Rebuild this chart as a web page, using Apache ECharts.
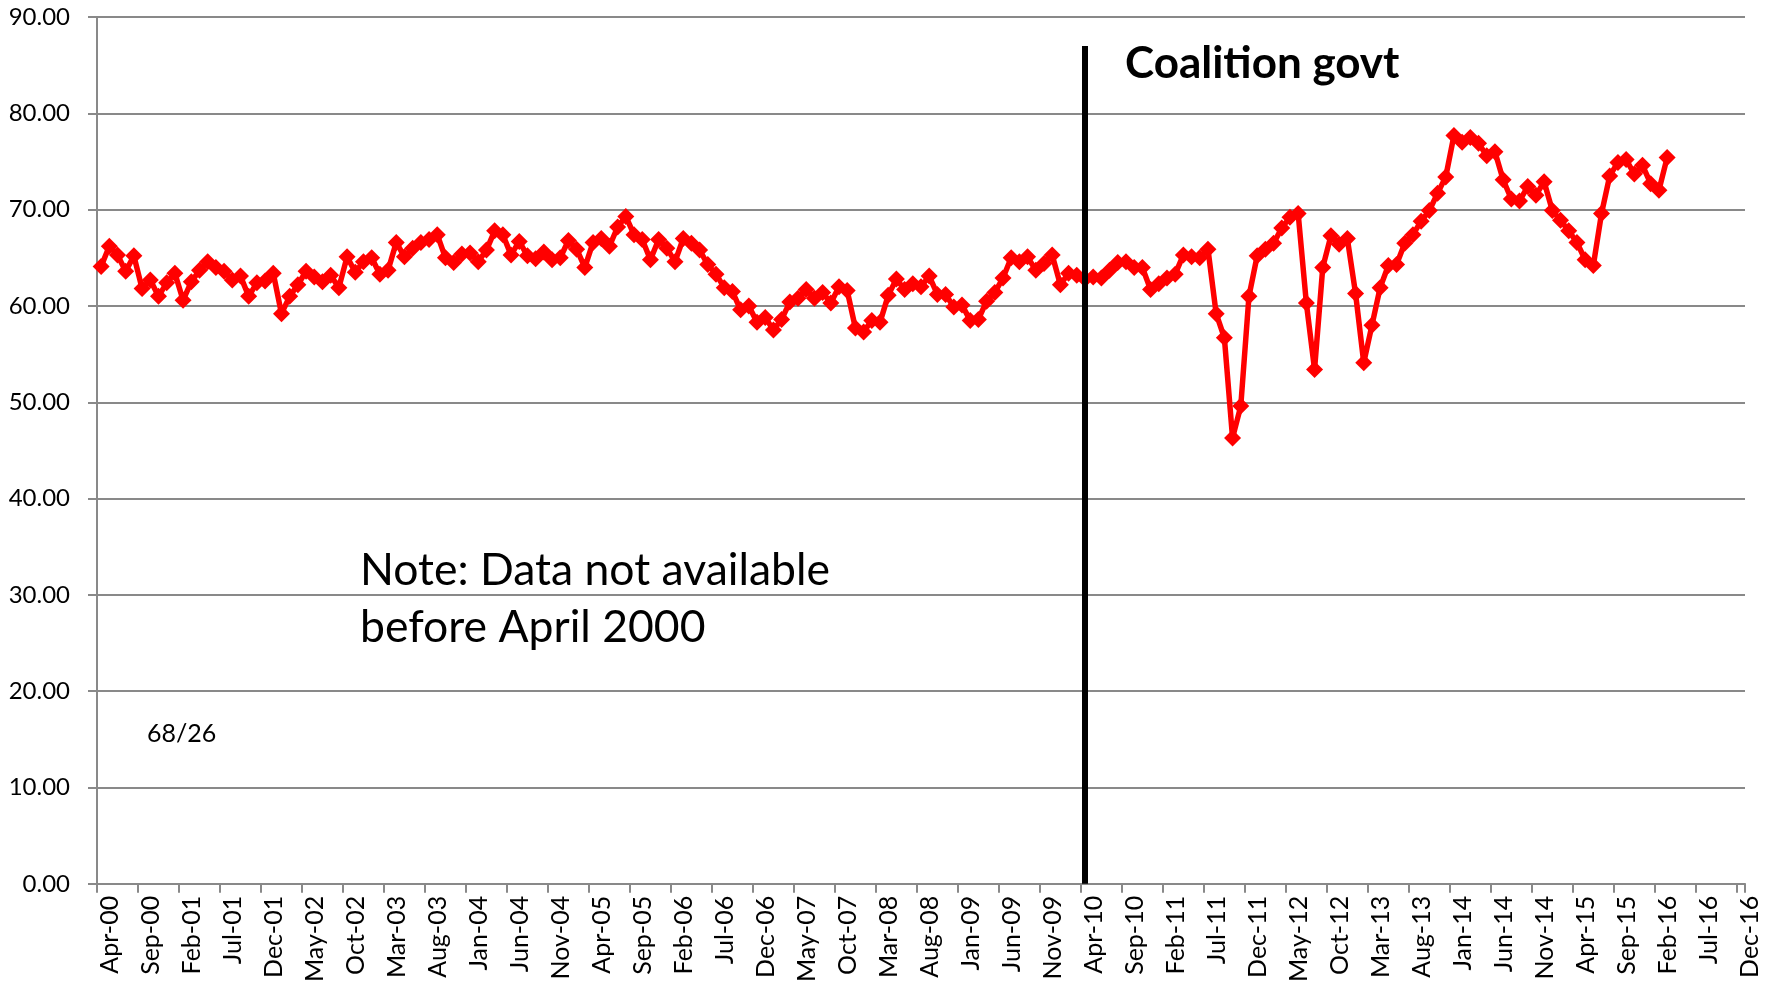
<!DOCTYPE html>
<html>
<head>
<meta charset="utf-8">
<script src="https://cdn.jsdelivr.net/npm/echarts@6/dist/echarts.min.js"></script>
<style>
html,body{margin:0;padding:0;background:#fff;}
#chart{width:1777px;height:985px;}
</style>
</head>
<body>
<div id="chart"></div>
<script>
// ---- Data ----
const monthNames = ['Jan','Feb','Mar','Apr','May','Jun','Jul','Aug','Sep','Oct','Nov','Dec'];
const firstYear = 2000, firstMonth = 3;   // Apr-00
const lastYear = 2016, lastMonth = 11;    // Dec-16 (axis end)
const categories = [];
for (let y = firstYear; y <= lastYear; y++) {
  for (let m = 0; m < 12; m++) {
    if (y === firstYear && m < firstMonth) continue;
    if (y === lastYear && m > lastMonth) continue;
    categories.push(monthNames[m] + '-' + String(y % 100).padStart(2, '0'));
  }
}

// Monthly values Apr-00 .. Mar-16
const values2000_2002 = [
  64.1, 66.2, 65.3, 63.6, 65.2, 61.8, 62.7, 61.0, 62.4,          // Apr-00..Dec-00
  63.4, 60.6, 62.5, 63.7, 64.6, 64.0, 63.6, 62.7, 63.1, 61.0, 62.4, 62.6, // 2001
  63.4, 59.2, 61.0, 62.2, 63.6, 63.0, 62.5, 63.2, 61.9, 65.1, 63.5, 64.6  // 2002
];
const values2003_2005 = [
  65.0, 63.3, 63.7, 66.6, 65.1, 66.0, 66.6, 66.9, 67.4, 65.0, 64.5, 65.4, // 2003
  65.5, 64.6, 65.8, 67.8, 67.4, 65.3, 66.7, 65.2, 64.9, 65.6, 64.8, 65.0, // 2004
  66.8, 65.9, 64.0, 66.6, 67.0, 66.2, 68.2, 69.3, 67.4, 66.9, 64.8, 66.9  // 2005
];
const values2006_2008 = [
  66.0, 64.6, 67.0, 66.5, 65.8, 64.3, 63.3, 61.9, 61.5, 59.6, 60.0, 58.3, // 2006
  58.8, 57.5, 58.6, 60.4, 60.8, 61.7, 60.8, 61.4, 60.3, 62.0, 61.6, 57.7, // 2007
  57.3, 58.5, 58.3, 61.1, 62.8, 61.7, 62.3, 62.0, 63.1, 61.2, 61.2, 59.9  // 2008
];
const values2009_2011 = [
  60.1, 58.5, 58.6, 60.5, 61.4, 62.9, 65.0, 64.6, 65.1, 63.7, 64.4, 65.3, // 2009
  62.2, 63.4, 63.2, 62.8, 63.0, 62.9, 63.7, 64.5, 64.6, 64.0, 64.0, 61.7, // 2010
  62.3, 62.9, 63.3, 65.3, 65.1, 65.0, 65.9, 59.2, 56.7, 46.3, 49.6, 61.0  // 2011
];
const values2012_2014 = [
  65.2, 65.9, 66.5, 68.1, 69.2, 69.6, 60.3, 53.4, 64.0, 67.3, 66.4, 67.0, // 2012
  61.3, 54.1, 58.0, 61.9, 64.2, 64.3, 66.5, 67.4, 68.8, 69.9, 71.7, 73.4, // 2013
  77.7, 77.0, 77.5, 76.9, 75.6, 76.0, 73.1, 71.1, 70.9, 72.4, 71.5, 72.9  // 2014
];
const values2015_2016 = [
  69.9, 68.9, 67.8, 66.6, 64.8, 64.2, 69.6, 73.5, 74.9, 75.2, 73.7, 74.6, // 2015
  72.7, 72.0, 75.4                                                        // Jan-16..Mar-16
];
const seriesValues = [].concat(values2000_2002, values2003_2005, values2006_2008,
                               values2009_2011, values2012_2014, values2015_2016);

const coalitionMonth = 'Apr-10';
const coalitionLineTop = 87;
const yTicks = { min: 0, max: 90, interval: 10 };

// ---- Chart ----
const chart = echarts.init(document.getElementById('chart'), null, { renderer: 'canvas' });
const FONT = 'Lato, "Open Sans", sans-serif';

chart.setOption({
  animation: false,
  backgroundColor: '#ffffff',
  grid: { left: 97, right: 32, top: 17, bottom: 100, containLabel: false },
  xAxis: {
    type: 'category',
    data: categories,
    boundaryGap: true,
    axisLine: { show: true, lineStyle: { color: '#898989', width: 2 } },
    axisTick: { show: true, interval: 4, length: 9, lineStyle: { color: '#898989', width: 2 } },
    axisLabel: {
      interval: 4, rotate: 90, margin: 12,
      verticalAlign: 'top', lineHeight: 18,
      fontFamily: FONT, fontSize: 25, color: '#000'
    },
    splitLine: { show: false }
  },
  yAxis: {
    type: 'value',
    min: yTicks.min, max: yTicks.max, interval: yTicks.interval,
    axisLine: { show: true, lineStyle: { color: '#898989', width: 2 } },
    axisTick: { show: true, length: 9, lineStyle: { color: '#898989', width: 2 } },
    axisLabel: {
      margin: 27, fontFamily: FONT, fontSize: 24, color: '#000',
      formatter: v => v.toFixed(2)
    },
    splitLine: { show: true, lineStyle: { color: '#898989', width: 2 } }
  },
  series: [{
    type: 'line',
    data: seriesValues,
    symbol: 'diamond',
    symbolSize: 17,
    showAllSymbol: true,
    itemStyle: { color: '#ff0000' },
    lineStyle: { color: '#ff0000', width: 5.5 },
    z: 3,
    markLine: {
      silent: true,
      symbol: ['none', 'none'],
      label: { show: false },
      lineStyle: { color: '#000', width: 6, type: 'solid' },
      data: [[{ xAxis: coalitionMonth, yAxis: 0 }, { xAxis: coalitionMonth, yAxis: coalitionLineTop }]],
      z: 4
    }
  }],
  graphic: [
    { type: 'text', left: 1125, top: 42,
      style: { text: 'Coalition govt', fontFamily: FONT, fontWeight: 'bold', fontSize: 44, fill: '#000' } },
    { type: 'text', left: 360, top: 542,
      style: { text: 'Note: Data not available\nbefore April 2000', fontFamily: FONT, fontSize: 44.5, lineHeight: 57, fill: '#000' } },
    { type: 'text', left: 147, top: 721,
      style: { text: '68/26', fontFamily: FONT, fontSize: 25, fill: '#000' } }
  ]
});
</script>
</body>
</html>
